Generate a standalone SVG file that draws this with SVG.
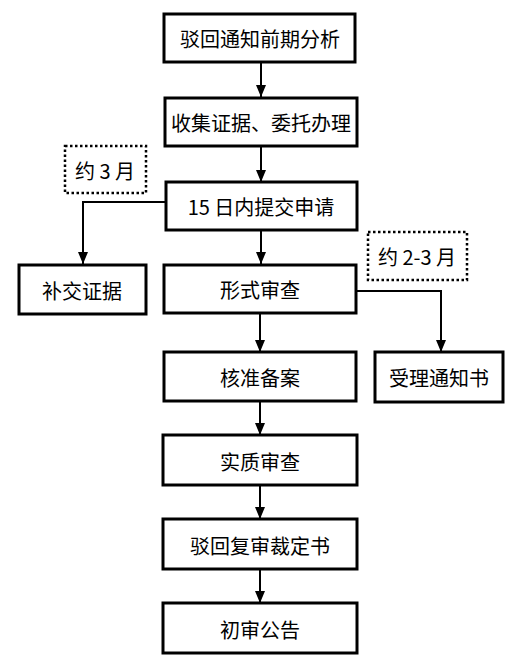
<svg xmlns="http://www.w3.org/2000/svg" width="527" height="664" viewBox="0 0 527 664">
<style>
.box{fill:#fff;stroke:#000;stroke-width:3}
.note{fill:#fff;stroke:#000;stroke-width:2.5;stroke-dasharray:2.5 2.5}
.t{font-family:"Noto Sans CJK SC","Liberation Sans",sans-serif;font-size:20px;fill:#000;text-anchor:middle;dominant-baseline:central}
.c{fill:none;stroke:#000;stroke-width:2}
</style>
<defs>
<marker id="ah" markerWidth="12" markerHeight="10" refX="12" refY="5" orient="auto" markerUnits="userSpaceOnUse">
<path d="M0,0 L12,5 L0,10 Z" fill="#000"/>
</marker>
</defs>
<rect width="527" height="664" fill="#fff"/>
<g id="connectors">
<path class="c" d="M261,62 V97" marker-end="url(#ah)"/>
<path class="c" d="M261,146 V182" marker-end="url(#ah)"/>
<path class="c" d="M261,230 V264" marker-end="url(#ah)"/>
<path class="c" d="M166,202 H83 V264" marker-end="url(#ah)"/>
<path class="c" d="M356,291 H441 V352" marker-end="url(#ah)"/>
<path class="c" d="M260,313 V352" marker-end="url(#ah)"/>
<path class="c" d="M260,401 V435" marker-end="url(#ah)"/>
<path class="c" d="M260,485 V519" marker-end="url(#ah)"/>
<path class="c" d="M260,569 V603" marker-end="url(#ah)"/>
</g>
<g id="n1"><rect class="box" x="164" y="14" width="191" height="48"/><text class="t" x="260" y="38">驳回通知前期分析</text></g>
<g id="n2"><rect class="box" x="165" y="98" width="192" height="48"/><text class="t" x="261" y="122">收集证据、委托办理</text></g>
<g id="n3"><rect class="box" x="166" y="182" width="191" height="48"/><text class="t" x="261" y="206">15 日内提交申请</text></g>
<g id="note1"><rect class="note" x="65" y="146" width="81" height="47"/><text class="t" x="105" y="170">约 3 月</text></g>
<g id="note2"><rect class="note" x="368" y="232" width="99" height="48"/><text class="t" x="417" y="256">约 2-3 月</text></g>
<g id="n4"><rect class="box" x="19" y="265" width="127" height="49"/><text class="t" x="82" y="290">补交证据</text></g>
<g id="n5"><rect class="box" x="164" y="265" width="192" height="48"/><text class="t" x="260" y="289">形式审查</text></g>
<g id="n6"><rect class="box" x="375" y="352" width="128" height="50"/><text class="t" x="439" y="377">受理通知书</text></g>
<g id="n7"><rect class="box" x="164" y="352" width="192" height="49"/><text class="t" x="260" y="377">核准备案</text></g>
<g id="n8"><rect class="box" x="163" y="435" width="194" height="50"/><text class="t" x="260" y="461">实质审查</text></g>
<g id="n9"><rect class="box" x="163" y="519" width="194" height="50"/><text class="t" x="260" y="545">驳回复审裁定书</text></g>
<g id="n10"><rect class="box" x="163" y="603" width="194" height="50"/><text class="t" x="260" y="629">初审公告</text></g>
</svg>
